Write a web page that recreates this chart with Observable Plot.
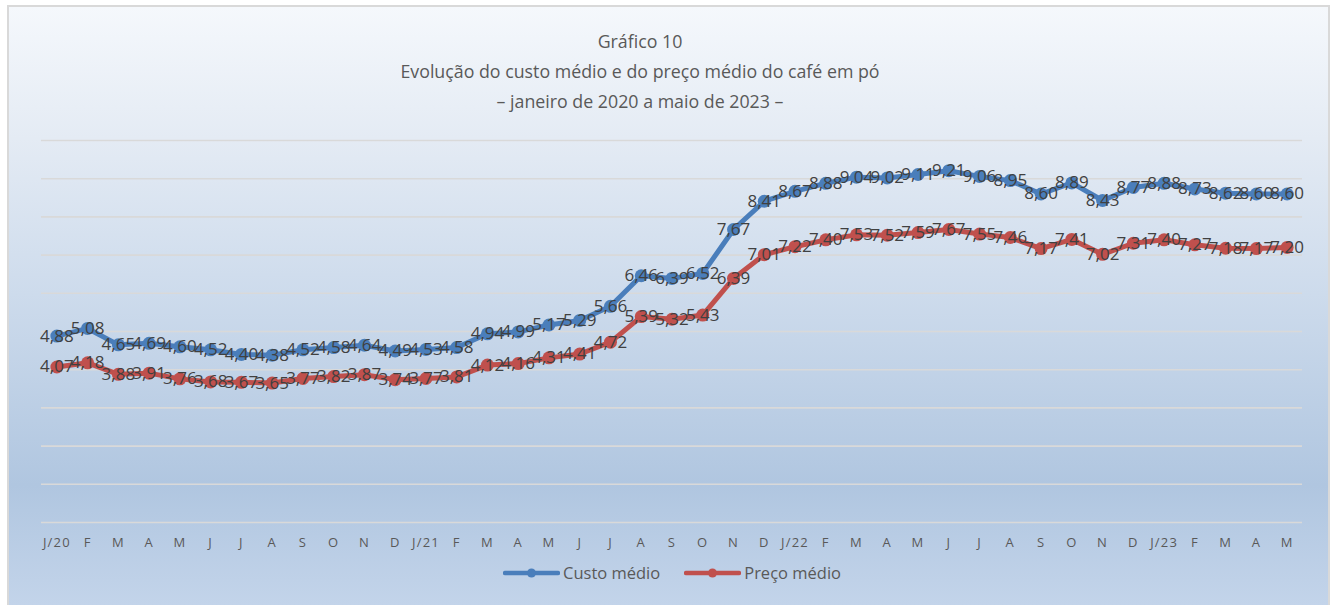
<!DOCTYPE html>
<html><head><meta charset="utf-8">
<script src="https://cdn.jsdelivr.net/npm/d3@7"></script>
<script src="https://cdn.jsdelivr.net/npm/@observablehq/plot@0.6"></script>
<style>
html,body{margin:0;padding:0;background:#fff;width:1335px;height:605px;overflow:hidden;font-family:"Open Sans",sans-serif;}
#bg{position:absolute;left:7px;top:5px;width:1323px;height:602px;box-sizing:border-box;border:2px solid #d9d9d9;
 background:linear-gradient(to bottom,#f5f8fc 0%,#e4ebf4 22%,#cddbec 48%,#b0c6e0 80%,#c3d4ea 100%);}
#title{position:absolute;left:0;top:26px;width:1280px;text-align:center;color:#595959;font-size:17.8px;line-height:30px;}
#plot{position:absolute;left:0;top:125px;}
#plot .xaxis text{letter-spacing:1.2px;}
#legend{position:absolute;left:0;top:561px;width:1344px;text-align:center;color:#595959;font-size:16.5px;line-height:24px;white-space:nowrap;}
#legend .item{display:inline-flex;align-items:center;margin:0 12px;}
#legend svg{margin-right:3px;}
</style>
</head><body>
<div id="bg"></div>
<div id="title">Gráfico 10<br>Evolução do custo médio e do preço médio do café em pó<br>– janeiro de 2020 a maio de 2023 –</div>
<div id="plot"></div>
<div id="legend"></div>
<script>
const monthLabels = ["J/20","F","M","A","M","J","J","A","S","O","N","D",
  "J/21","F","M","A","M","J","J","A","S","O","N","D",
  "J/22","F","M","A","M","J","J","A","S","O","N","D",
  "J/23","F","M","A","M"];
const custoMedio = [4.88,5.08,4.65,4.69,4.60,4.52,4.40,4.38,4.52,4.58,4.64,4.49,
  4.53,4.58,4.94,4.99,5.17,5.29,5.66,6.46,6.39,6.52,7.67,8.41,
  8.67,8.88,9.04,9.02,9.11,9.21,9.06,8.95,8.60,8.89,8.43,8.77,
  8.88,8.73,8.62,8.60,8.60];
const precoMedio = [4.07,4.18,3.88,3.91,3.76,3.68,3.67,3.65,3.77,3.82,3.87,3.74,
  3.77,3.81,4.12,4.16,4.31,4.41,4.72,5.39,5.32,5.43,6.39,7.01,
  7.22,7.40,7.53,7.52,7.59,7.67,7.55,7.46,7.17,7.41,7.02,7.31,
  7.40,7.27,7.18,7.17,7.20];
const seriesNames = ["Custo médio","Preço médio"];
const seriesColors = ["#4a7ebb","#c0504d"];

const rows = [];
[custoMedio, precoMedio].forEach((arr, s) => arr.forEach((v, i) => rows.push({i, v, s: seriesNames[s]})));
const fmt = v => v.toFixed(2).replace(".", ",");

const chart = Plot.plot({
  width: 1335, height: 432,
  marginTop: 15, marginBottom: 35, marginLeft: 41, marginRight: 33,
  style: {background: "transparent", color: "#595959", fontFamily: "'Open Sans', sans-serif"},
  x: {type: "point", domain: d3.range(monthLabels.length), padding: 0.5, label: null},
  y: {domain: [0, 10], label: null},
  color: {domain: seriesNames, range: seriesColors},
  marks: [
    Plot.gridY(d3.range(0, 11), {stroke: "#d9d9d9", strokeOpacity: 1, strokeWidth: 1.6}),
    Plot.axisX({tickSize: 0, tickPadding: 15, fontSize: 13, fill: "#595959", label: null, tickFormat: i => monthLabels[i], className: "xaxis"}),
    Plot.axisY({ticks: [], label: null}),
    Plot.line(rows, {x: "i", y: "v", z: "s", stroke: "s", strokeWidth: 5, curve: "linear"}),
    Plot.dot(rows, {x: "i", y: "v", fill: "s", r: 6.5}),
    Plot.text(rows, {x: "i", y: "v", text: d => fmt(d.v), fill: "#404040", fontSize: 17})
  ]
});
document.getElementById("plot").appendChild(chart);

const legend = document.getElementById("legend");
seriesNames.forEach((n, k) => {
  const item = document.createElement("span");
  item.className = "item";
  item.innerHTML = `<svg width="57" height="12"><line x1="2" y1="6" x2="55" y2="6" stroke="${seriesColors[k]}" stroke-width="4.5" stroke-linecap="round"/><circle cx="28.5" cy="6" r="4.5" fill="${seriesColors[k]}"/></svg><span>${n}</span>`;
  legend.appendChild(item);
});
</script>
</body></html>
